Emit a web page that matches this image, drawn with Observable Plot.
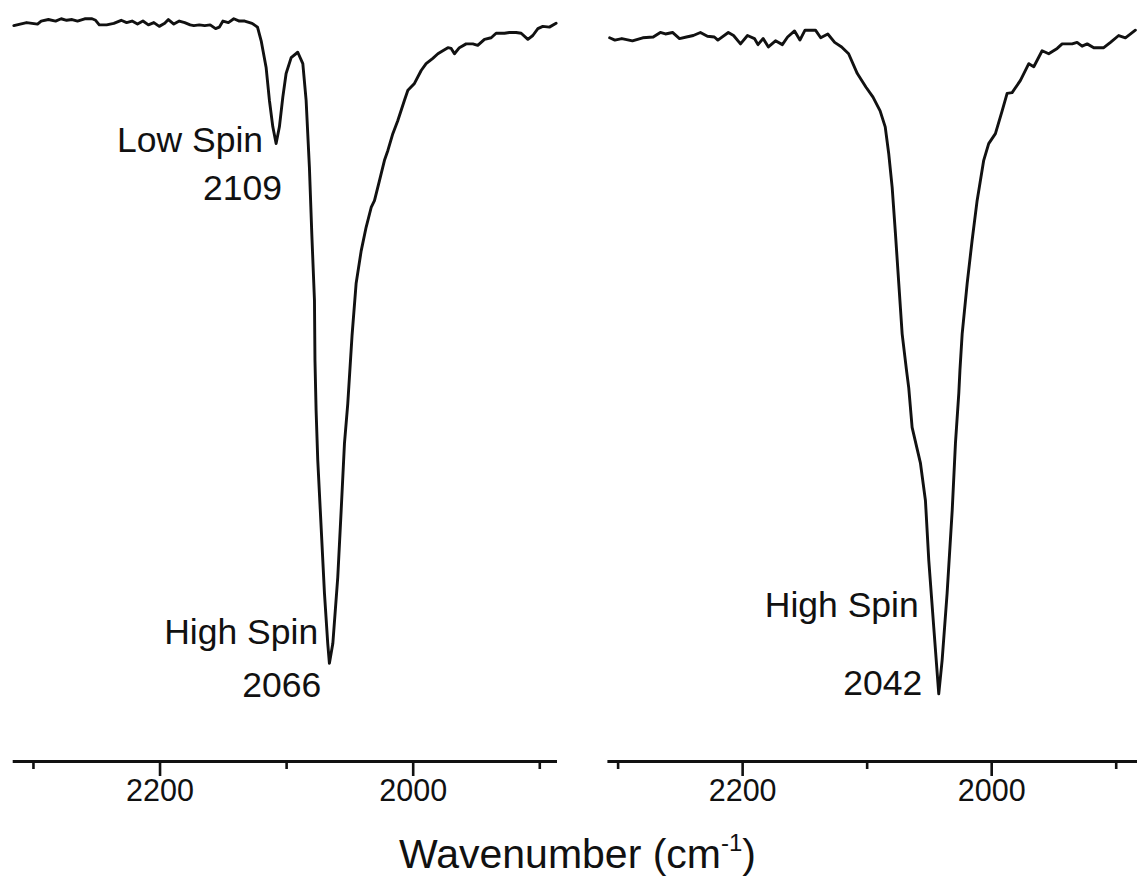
<!DOCTYPE html>
<html>
<head>
<meta charset="utf-8">
<script src="https://cdn.jsdelivr.net/npm/d3@7"></script>
<script src="https://cdn.jsdelivr.net/npm/@observablehq/plot@0.6"></script>
<style>
  body { margin: 0; background: #fff; }
  #wrap { position: relative; width: 1137px; height: 879px; overflow: hidden; background: #fff;
          font-family: "Liberation Sans", Arial, sans-serif; color: #111; }
  #left { position: absolute; left: 0; top: 0; }
  #right { position: absolute; left: 590px; top: 0; }
  #xlabel { position: absolute; left: 0; width: 1155px; top: 834px; text-align: center;
            font-size: 41px; line-height: 40px; color: #111; }
  #xlabel sup { font-size: 24px; line-height: 0; vertical-align: 17px; }
</style>
</head>
<body>
<div id="wrap">
  <div id="left"></div>
  <div id="right"></div>
  <div id="xlabel">Wavenumber (cm<sup>-1</sup>)</div>
</div>
<script>
// ---- Data ----
const leftWavenumber = [2315.5,2305.4,2296.8,2293.9,2288.2,2282.5,2278.1,2273.8,2269.5,2265.2,2259.5,2253.7,2250.9,2248.0,2242.2,2236.5,2230.7,2226.4,2222.1,2217.8,2213.5,2209.2,2204.9,2200.6,2196.3,2193.4,2189.1,2184.8,2180.5,2176.2,2173.3,2169.0,2164.7,2160.4,2156.1,2153.2,2150.3,2146.0,2141.7,2137.4,2133.1,2127.3,2123.0,2120.1,2116.2,2113.6,2110.9,2108.3,2105.7,2103.0,2100.4,2096.4,2091.2,2087.2,2084.6,2082.0,2080.1,2078.0,2077.6,2076.7,2075.4,2072.7,2070.1,2067.5,2066.2,2063.5,2059.6,2056.9,2054.3,2051.7,2048.3,2045.1,2041.1,2037.2,2033.2,2030.6,2026.7,2022.7,2020.0,2016.1,2012.2,2006.9,2004.2,1999.0,1993.7,1989.8,1984.5,1980.5,1976.6,1972.6,1970.0,1967.4,1963.5,1958.2,1952.9,1949.0,1943.7,1938.4,1934.5,1927.9,1924.0,1918.7,1914.7,1909.4,1905.5,1901.5,1897.6,1892.4,1887.1];
const leftTransmittance = [96.7,97.1,96.9,97.3,97.5,97.3,97.6,97.4,97.5,97.3,97.6,97.6,97.4,96.8,96.8,97.0,97.4,97.1,97.3,96.9,97.3,96.8,97.1,96.6,97.0,97.5,96.9,97.3,97.1,96.8,96.7,96.8,96.7,96.8,96.3,96.5,97.3,97.1,97.6,97.3,97.3,97.0,96.5,94.7,91.2,86.9,83.4,81.2,83.4,87.3,90.4,92.5,93.2,91.7,86.9,78.1,69.3,60.6,52.7,46.1,39.6,30.7,22.1,15.5,12.9,15.5,24.2,33.0,41.8,47.0,56.0,62.8,67.1,70.2,72.8,73.7,76.3,79.0,80.3,82.5,84.2,86.9,88.2,89.1,90.8,91.7,92.4,93.0,93.4,93.8,93.7,93.0,93.8,94.3,94.3,94.1,94.9,95.1,95.7,95.7,95.8,95.8,95.7,94.9,95.4,96.3,96.6,96.5,97.0];

const rightWavenumber = [2306.8,2302.6,2297.0,2288.5,2280.2,2271.8,2266.1,2262.0,2256.3,2250.7,2245.1,2239.6,2233.9,2228.3,2222.7,2219.9,2211.5,2207.3,2201.7,2196.1,2190.5,2187.7,2183.5,2179.3,2173.6,2168.1,2163.9,2158.3,2154.0,2149.9,2141.5,2137.3,2131.6,2126.1,2120.5,2114.9,2107.9,2100.9,2095.3,2089.6,2085.5,2082.7,2079.9,2077.3,2074.6,2071.9,2068.4,2066.6,2063.9,2057.2,2053.2,2050.5,2046.5,2042.5,2039.8,2035.8,2031.7,2029.1,2026.4,2025.5,2023.7,2019.7,2015.7,2011.7,2006.4,2002.4,1997.0,1991.6,1987.6,1983.6,1976.9,1970.2,1966.2,1959.5,1954.2,1947.4,1943.4,1935.4,1931.4,1927.4,1923.3,1918.0,1910.0,1904.6,1898.0,1892.6,1884.6];
const rightTransmittance = [95.1,94.8,95.0,94.7,95.1,95.2,95.8,95.6,95.8,95.0,95.2,95.4,95.8,95.3,95.2,94.8,95.8,95.4,94.3,95.4,95.0,94.2,95.0,93.9,94.7,94.2,95.2,96.0,94.8,96.1,96.1,95.1,95.6,94.5,93.9,93.0,90.4,88.6,87.3,85.5,83.4,79.9,75.4,69.4,62.8,56.2,51.4,49.1,43.9,39.2,34.3,26.4,17.6,8.9,13.3,22.1,33.0,41.8,48.4,51.4,56.2,62.8,68.5,73.7,79.0,81.2,82.5,85.5,87.8,87.9,89.5,91.7,91.3,93.4,93.0,93.7,94.3,94.3,94.5,94.0,94.3,93.8,93.8,94.5,95.4,95.1,96.1];

const majorTicks = [2200, 2000];
const majorTickLabels = ["2200", "2000"];
const minorTicks = [2300, 2100, 1900];

const leftNoteLabels = ["Low Spin", "2109", "High Spin", "2066"];
const leftNoteWavenumber = [2118.6, 2103.6, 2075.1, 2072.7];
const leftNoteValue = [81.6, 75.3, 17.0, 10.0];

const rightNoteLabels = ["High Spin", "2042"];
const rightNoteWavenumber = [2058.6, 2055.8];
const rightNoteValue = [20.5, 10.2];

const FONT = '"Liberation Sans", Arial, sans-serif';

function panel(wn, tr, labels, lw, lv, opts) {
  const data = wn.map((w, i) => ({w, t: tr[i]}));
  const notes = labels.map((s, i) => ({label: s, w: lw[i], t: lv[i]}));
  const tickText = majorTicks.map((v, i) => ({v, label: majorTickLabels[i]}));
  return Plot.plot({
    width: opts.width,
    height: 821,
    marginTop: 0,
    marginBottom: 60,
    marginLeft: opts.ml,
    marginRight: opts.mr,
    x: {domain: opts.domain, axis: null, label: null},
    y: {domain: [0, 100], axis: null, label: null},
    style: {fontFamily: FONT, background: "transparent", color: "#111", overflow: "visible"},
    marks: [
      Plot.ruleY([0], {stroke: "#111", strokeWidth: 2.8}),
      Plot.axisX(majorTicks, {label: null, tickSize: 15, strokeWidth: 2.6, tickFormat: () => ""}),
      Plot.axisX(minorTicks, {label: null, tickSize: 8, strokeWidth: 2.6, tickFormat: () => ""}),
      Plot.text(tickText, {x: "v", text: "label", frameAnchor: "bottom", dy: 39, fontSize: 30.5, fill: "#111"}),
      Plot.line(data, {x: "w", y: "t", stroke: "#111", strokeWidth: 2.9, strokeLinejoin: "round"}),
      Plot.text(notes, {x: "w", y: "t", text: "label", textAnchor: "end", fontSize: 35.5, fill: "#111"})
    ]
  });
}

document.getElementById("left").append(
  panel(leftWavenumber, leftTransmittance, leftNoteLabels, leftNoteWavenumber, leftNoteValue,
        {width: 570, ml: 12.7, mr: 13, domain: [2316, 1886]})
);
document.getElementById("right").append(
  panel(rightWavenumber, rightTransmittance, rightNoteLabels, rightNoteWavenumber, rightNoteValue,
        {width: 547, ml: 17.4, mr: 0, domain: [2308.2, 1882.9]})
);
</script>
</body>
</html>
